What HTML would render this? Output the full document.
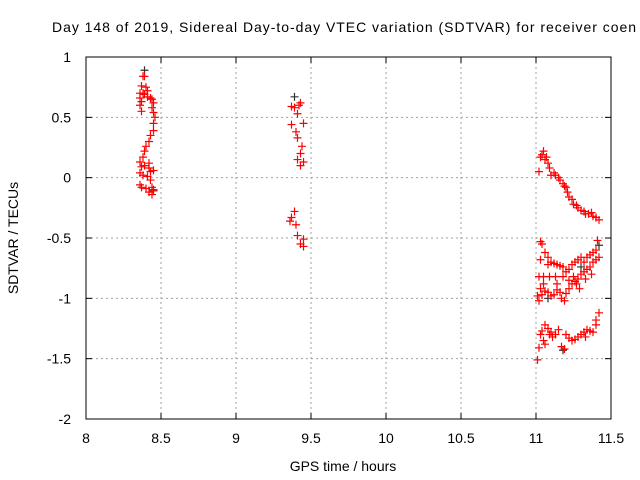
<!DOCTYPE html>
<html><head><meta charset="utf-8"><style>
html,body{margin:0;padding:0;background:#fff;overflow:hidden}
svg{display:block;font-family:"Liberation Sans",sans-serif}
</style></head><body>
<svg id="chart" width="640" height="480" viewBox="0 0 640 480">
<rect width="640" height="480" fill="#fff"/>
<text x="52" y="32" font-size="14" textLength="584" lengthAdjust="spacing">Day 148 of 2019, Sidereal Day-to-day VTEC variation (SDTVAR) for receiver coen</text>
<g id="grid"></g>
<g id="ticks"></g>
<g id="marks"></g>
<rect x="86" y="57" width="525" height="362" fill="none" stroke="#000" stroke-width="1"/>
<text x="18" y="238" font-size="14" text-anchor="middle" transform="rotate(-90 18 238)">SDTVAR / TECUs</text>
<text x="343" y="471" font-size="14" text-anchor="middle">GPS time / hours</text>
</svg>
<script>
const xTicks=[8,8.5,9,9.5,10,10.5,11,11.5];
const xTickLabels=["8","8.5","9","9.5","10","10.5","11","11.5"];
const yTicks=[1,0.5,0,-0.5,-1,-1.5,-2];
const yTickLabels=["1","0.5","0","-0.5","-1","-1.5","-2"];
const redX=[8.39,8.38,8.37,8.36,8.36,8.37,8.39,8.41,8.43,8.44,8.45,8.36,8.37,8.44,8.45,8.46,8.45,8.45,8.43,8.42,8.40,8.39,8.38,8.36,8.37,8.39,8.42,8.43,8.36,8.38,8.41,8.43,8.45,8.42,8.36,8.37,8.40,8.42,8.44,8.45,8.44,8.38,8.41,8.40,
9.37,9.39,9.42,9.43,9.41,9.37,9.45,9.40,9.41,9.44,9.43,9.41,9.45,9.43,9.39,9.37,9.36,9.40,9.41,9.45,9.43,9.45,
11.02,11.03,11.04,11.05,11.06,11.07,11.08,11.09,11.10,11.12,11.13,11.15,11.16,11.18,11.19,11.20,11.21,11.22,11.24,11.25,11.27,11.28,11.30,11.32,11.33,11.35,11.37,11.38,11.40,11.42,
11.03,11.04,11.06,11.08,11.03,11.02,11.05,11.08,11.10,11.12,11.14,11.16,11.18,11.13,11.09,11.05,11.03,11.01,11.02,11.04,11.06,11.08,11.10,11.12,11.14,11.16,11.17,11.19,11.20,11.22,11.24,11.26,11.28,11.30,11.32,11.34,11.36,11.38,11.40,11.42,11.20,11.22,11.24,11.26,11.28,11.30,11.32,11.34,11.36,11.38,11.40,11.41,11.25,11.27,11.29,11.33,11.37,11.22,11.18,11.14,
11.03,11.04,11.05,11.06,11.08,11.09,11.11,11.13,11.15,11.17,11.19,11.20,11.22,11.24,11.26,11.28,11.30,11.32,11.34,11.36,11.38,11.40,11.42,11.02,11.01,11.06,11.10,11.33,11.40];
const redY=[0.84,0.84,0.76,0.70,0.66,0.63,0.69,0.67,0.66,0.65,0.62,0.60,0.55,0.58,0.54,0.50,0.45,0.39,0.35,0.30,0.26,0.22,0.17,0.13,0.09,0.10,0.08,0.05,0.04,0.02,0.01,-0.02,0.06,0.12,-0.06,-0.08,-0.09,-0.12,-0.14,-0.11,-0.08,0.70,0.72,0.75,
0.59,0.58,0.60,0.62,0.53,0.44,0.45,0.38,0.33,0.26,0.20,0.15,0.13,0.10,-0.28,-0.33,-0.36,-0.39,-0.48,-0.51,-0.55,-0.57,
0.05,0.17,0.19,0.22,0.15,0.17,0.12,0.08,0.02,0.04,0.02,0.00,-0.02,-0.05,-0.07,-0.08,-0.12,-0.16,-0.18,-0.22,-0.23,-0.25,-0.27,-0.28,-0.30,-0.30,-0.29,-0.32,-0.33,-0.35,
-0.53,-0.55,-0.62,-0.66,-0.68,-0.82,-0.82,-0.72,-0.70,-0.71,-0.72,-0.73,-0.74,-0.82,-0.82,-0.88,-0.92,-0.98,-1.02,-0.97,-0.94,-0.95,-0.98,-0.97,-0.93,-0.95,-1.00,-1.02,-0.96,-0.92,-0.88,-0.86,-0.84,-0.80,-0.78,-0.76,-0.74,-0.70,-0.68,-0.66,-0.78,-0.76,-0.72,-0.70,-0.68,-0.66,-0.70,-0.66,-0.64,-0.62,-0.60,-0.52,-0.82,-0.88,-0.92,-0.84,-0.80,-0.85,-0.82,-0.88,
-1.30,-1.27,-1.35,-1.22,-1.25,-1.30,-1.32,-1.30,-1.26,-1.40,-1.42,-1.30,-1.33,-1.35,-1.34,-1.32,-1.30,-1.28,-1.26,-1.27,-1.28,-1.22,-1.12,-1.41,-1.51,-1.38,-1.28,-1.32,-1.18];
const darkX=[8.39,8.45,9.39,11.42,11.18,11.08,11.30];
const darkY=[0.89,-0.10,0.67,-0.56,-1.43,-1.00,-0.74];
const X0=86,X1=611,Y0=57,Y1=419,xmin=8,xmax=11.5,ymin=-2,ymax=1;
function xs(v){return X0+(v-xmin)/(xmax-xmin)*(X1-X0);}
function ys(v){return Y0+(ymax-v)/(ymax-ymin)*(Y1-Y0);}
const NS="http://www.w3.org/2000/svg";
function mk(t,a,p){const e=document.createElementNS(NS,t);for(const k in a)e.setAttribute(k,a[k]);p.appendChild(e);return e;}
const grid=document.getElementById('grid'),ticks=document.getElementById('ticks'),marks=document.getElementById('marks');
xTicks.forEach((v,i)=>{const x=xs(v);
 if(i>0&&i<xTicks.length-1){const l=mk('line',{x1:x,y1:Y0,x2:x,y2:Y1,stroke:'#a0a0a0','stroke-dasharray':'2,3'},grid);
 
 }
 mk('line',{x1:x,y1:Y1,x2:x,y2:Y1-6,stroke:'#000'},ticks);
 mk('line',{x1:x,y1:Y0,x2:x,y2:Y0+6,stroke:'#000'},ticks);
 const t=mk('text',{x:x,y:Y1+24,'font-size':14,'text-anchor':'middle'},ticks);t.textContent=xTickLabels[i];
 
 
});
yTicks.forEach((v,i)=>{const y=ys(v);
 if(i>0&&i<yTicks.length-1){const l=mk('line',{x1:X0,y1:y,x2:X1,y2:y,stroke:'#a0a0a0','stroke-dasharray':'2,3'},grid);
 
 }
 mk('line',{x1:X0,y1:y,x2:X0+6,y2:y,stroke:'#000'},ticks);
 mk('line',{x1:X1,y1:y,x2:X1-6,y2:y,stroke:'#000'},ticks);
 const t=mk('text',{x:X0-15,y:y+5,'font-size':14,'text-anchor':'end'},ticks);t.textContent=yTickLabels[i];
 
 
});
function plus(x,y,c,name){const p=mk('path',{d:`M${x-4},${y}H${x+4}M${x},${y-4}V${y+4}`,stroke:c,'stroke-width':1.2,fill:'none'},marks);
 
 }
darkX.forEach((v,i)=>plus(xs(v),ys(darkY[i]),'#333','point-dark'));
redX.forEach((v,i)=>plus(xs(v),ys(redY[i]),'#ff0000','point-red'));
</script>
</body></html>
